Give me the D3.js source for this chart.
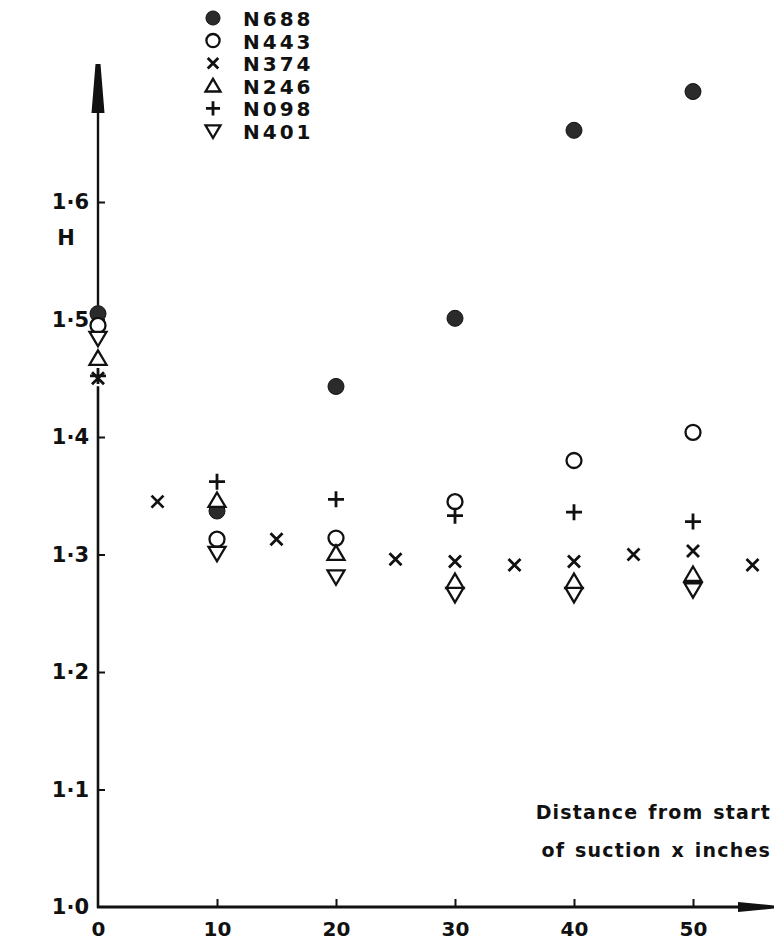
<!DOCTYPE html>
<html><head><meta charset="utf-8">
<script src="https://cdn.jsdelivr.net/npm/d3@7"></script>
<style>
html,body{margin:0;padding:0;background:#fff;}
svg{display:block;}
text{font-family:"DejaVu Sans",sans-serif;font-weight:bold;fill:#111;}
</style></head>
<body>
<script>
// ---- data ----
const seriesNames = ["N688","N443","N374","N246","N098","N401"];
const markerTypes = ["filled","circle","times","triangleUp","plus","triangleDown"];
const xN688 = [0,10,20,30,40,50];
const yN688 = [1.505,1.337,1.443,1.501,1.661,1.694];
const xN443 = [0,10,20,30,40,50];
const yN443 = [1.495,1.313,1.314,1.345,1.380,1.404];
const xN374 = [0,5,15,25,30,35,40,45,50,55];
const yN374 = [1.450,1.345,1.313,1.296,1.294,1.291,1.294,1.300,1.303,1.291];
const xN246 = [0,10,20,30,40,50];
const yN246 = [1.467,1.346,1.301,1.277,1.277,1.283];
const xN098 = [0,10,20,30,40,50];
const yN098 = [1.452,1.362,1.347,1.333,1.336,1.328];
const xN401 = [0,10,20,30,40,50];
const yN401 = [1.484,1.301,1.281,1.266,1.266,1.270];
const xTicks = [0,10,20,30,40,50];
const yTicks = [1.0,1.1,1.2,1.3,1.4,1.5,1.6];
const yLabel = "H";
const xTitle1 = "Distance from start";
const xTitle2 = "of suction x inches";

const seriesX = [xN688,xN443,xN374,xN246,xN098,xN401];
const seriesY = [yN688,yN443,yN374,yN246,yN098,yN401];

// ---- layout ----
const W = 777, H = 948;
const svg = d3.select("body").append("svg").attr("width",W).attr("height",H);
const x = d3.scaleLinear().domain([0,50]).range([98,693]);
const y = d3.scaleLinear().domain([1.0,1.6]).range([907,202]);
const ax = x(0), ay = y(1.0);

function markerPath(type, r){
  switch(type){
    case "filled":
    case "circle": {const p=d3.path();p.arc(0,0,r,0,2*Math.PI);return p.toString();}
    case "times": {const s=r*0.75;return `M${-s},${-s}L${s},${s}M${-s},${s}L${s},${-s}`;}
    case "plus": return `M${-r},0L${r},0M0,${-r}L0,${r}`;
    case "triangleUp": {const h=r*1.7;return `M0,${-h*0.55}L${r},${h*0.45}L${-r},${h*0.45}Z`;}
    case "triangleDown": {const h=r*1.7;return `M0,${h*0.55}L${r},${-h*0.45}L${-r},${-h*0.45}Z`;}
  }
}
function markerStyle(sel,type){
  if(type==="filled") sel.attr("fill","#2b2b2b").attr("stroke","#111").attr("stroke-width",1);
  else if(type==="circle"||type==="triangleUp"||type==="triangleDown") sel.attr("fill","#fff").attr("stroke","#111").attr("stroke-width",2.3);
  else sel.attr("fill","none").attr("stroke","#111").attr("stroke-width",2.8);
}
const markerR = {filled:8, circle:7.5, times:8, triangleUp:8.5, plus:8, triangleDown:8.5};

// ---- axes ----
const zeroVals = seriesY.map((ys,i)=>ys[seriesX[i].indexOf(0)]);
const gapTop = y(d3.max(zeroVals)) - 8, gapBot = y(d3.min(zeroVals)) + 8;
const axisG = svg.append("g");
axisG.append("line").attr("x1",ax).attr("x2",ax).attr("y1",110).attr("y2",gapTop)
  .attr("stroke","#111").attr("stroke-width",2.4);
axisG.append("line").attr("x1",ax).attr("x2",ax).attr("y1",gapBot).attr("y2",ay+1)
  .attr("stroke","#111").attr("stroke-width",2.6);
axisG.append("path").attr("d",`M${ax-2.5},64L${ax+2.5},64L${ax+6.5},113L${ax-6.5},113Z`).attr("fill","#111");
axisG.append("line").attr("x1",ax-1).attr("x2",745).attr("y1",ay).attr("y2",ay)
  .attr("stroke","#111").attr("stroke-width",3);
axisG.append("path").attr("d",`M738,${ay-5}L774,${ay-1.5}L774,${ay+1.5}L738,${ay+5}Z`).attr("fill","#111");

const fmt = d => d3.format(".1f")(d).replace(".","·");
const yAxis = d3.axisLeft(y).tickValues(yTicks).tickSize(-7).tickPadding(9).tickFormat(fmt);
const gy = svg.append("g").attr("transform",`translate(${ax},0)`).call(yAxis);
gy.select(".domain").remove();
gy.selectAll(".tick line").attr("stroke","#111").attr("stroke-width",2).filter(d=>d===1.0).remove();
gy.selectAll(".tick text").attr("font-size",21).attr("font-family","DejaVu Sans").attr("font-weight","bold").attr("fill","#111");

const xAxis = d3.axisBottom(x).tickValues(xTicks).tickSize(-8).tickPadding(15).tickFormat(d3.format("d"));
const gx = svg.append("g").attr("transform",`translate(0,${ay})`).call(xAxis);
gx.select(".domain").remove();
gx.selectAll(".tick line").attr("stroke","#111").attr("stroke-width",2).filter(d=>d===0).remove();
gx.selectAll(".tick text").attr("font-size",20).attr("font-family","DejaVu Sans").attr("font-weight","bold").attr("fill","#111");

svg.append("text").attr("x",66).attr("y",245).attr("text-anchor","middle").attr("font-size",21).text(yLabel);
svg.append("text").attr("x",771).attr("y",819).attr("text-anchor","end").attr("font-size",19).attr("letter-spacing",1.2).attr("word-spacing",2).text(xTitle1);
svg.append("text").attr("x",771).attr("y",857).attr("text-anchor","end").attr("font-size",19).attr("letter-spacing",1.2).attr("word-spacing",2).text(xTitle2);

// ---- points ----
const plot = svg.append("g");
seriesNames.forEach((name,i)=>{
  const type = markerTypes[i];
  const pts = seriesX[i].map((xv,j)=>({x:xv,y:seriesY[i][j]}));
  plot.selectAll(null).data(pts).enter().append("path")
    .attr("transform",d=>`translate(${x(d.x)},${y(d.y)})`)
    .attr("d",markerPath(type,markerR[type]))
    .call(markerStyle,type);
});

// ---- legend ----
const leg = svg.append("g");
const legY = d3.scalePoint().domain(seriesNames).range([18,131]);
seriesNames.forEach((name,i)=>{
  const type = markerTypes[i];
  leg.append("path").attr("transform",`translate(213,${legY(name)})`)
    .attr("d",markerPath(type,markerR[type]*0.88)).call(markerStyle,type);
  leg.append("text").attr("x",243).attr("y",legY(name)+8).attr("font-size",20).attr("letter-spacing",3).text(name);
});
</script>
</body></html>
